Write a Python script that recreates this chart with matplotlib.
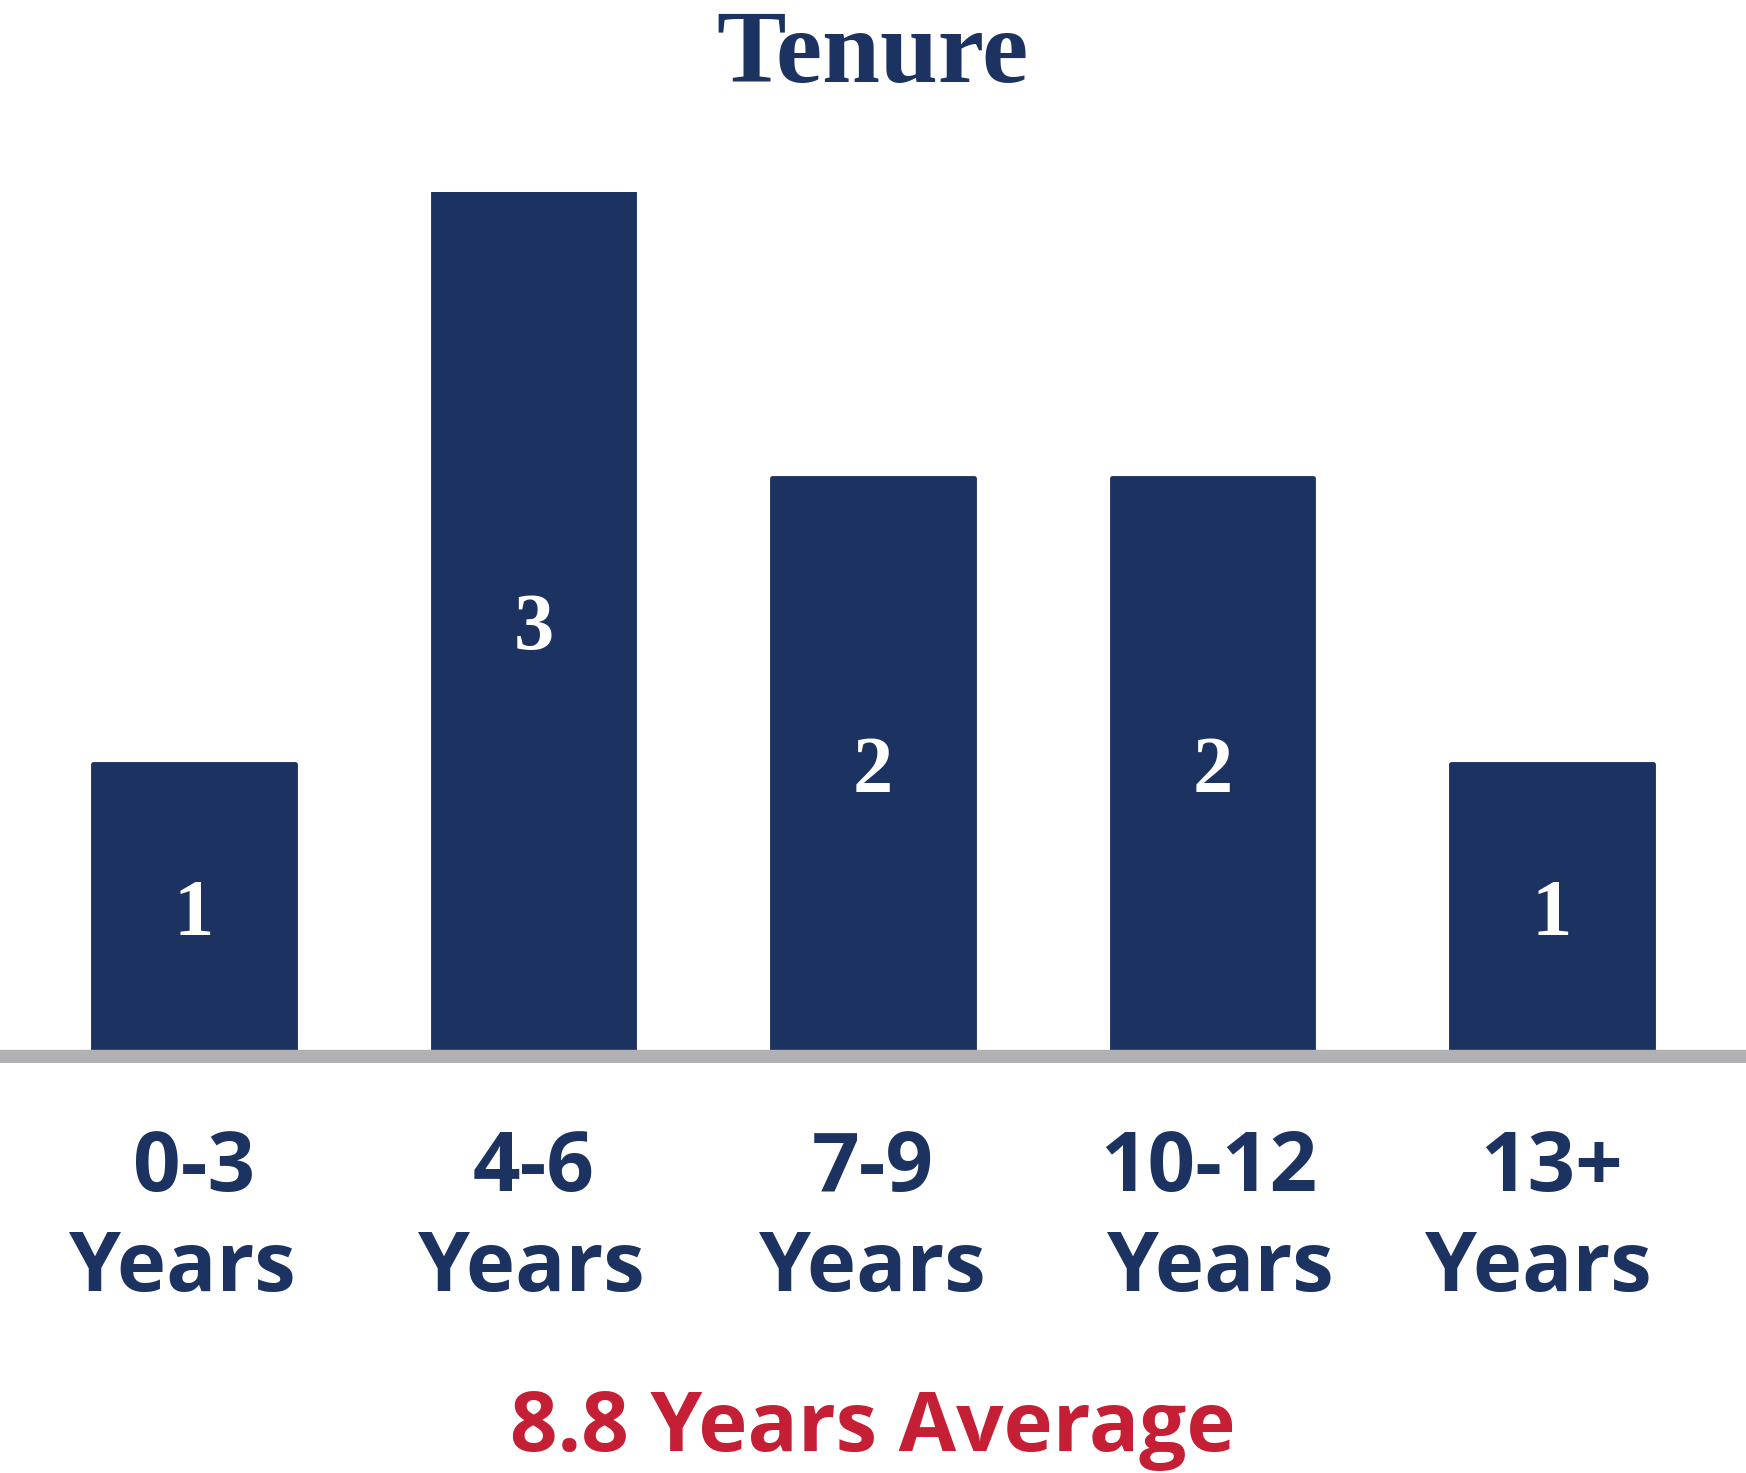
import matplotlib.pyplot as plt
from matplotlib.transforms import blended_transform_factory, offset_copy

# data
ranges = ["0-3", "4-6", "7-9", "10-12", "13+"]
counts = [1, 3, 2, 2, 1]
title = "Tenure"
average_text = "8.8 Years Average"

navy = "#1c3260"
red = "#c41f35"
gray = "#b1b1b4"
sans = "Open Sans"

# small horizontal nudges (pixels) of the labels, as in the original layout
range_nudge = [0, 0, 0, -4, 0]
years_nudge = [-12, -2, -1, 8, -14]

W, H = 1746, 1473
fig = plt.figure(figsize=(W / 100, H / 100), dpi=100)
fig.patch.set_facecolor("white")

# axes: baseline strip at 1050-1063 px, 3 units reach y=192 px
strip = 13 / 286
ax = fig.add_axes([0, (H - 1063) / H, 1, (1063 - 192) / H])
ax.set_xlim(-0.5717, 4.5717)
ax.set_ylim(-strip, 3)
ax.axis("off")

x = range(len(ranges))
bars = ax.bar(x, counts, width=0.593, bottom=0, color=navy,
              edgecolor=navy, linewidth=3.5, zorder=2)
for b in bars:
    b.set_joinstyle("round")
ax.axhspan(-strip, 0, color=gray, zorder=3)

for i, c in zip(x, counts):
    ax.text(i, c / 2, str(c), ha="center", va="center_baseline", color="white",
            fontsize=58, fontweight="bold", family="Liberation Serif", zorder=4)

tr = blended_transform_factory(ax.transData, fig.transFigure)
for i, r in zip(x, ranges):
    t1 = offset_copy(tr, fig=fig, x=range_nudge[i] * 0.72, units="points")
    t2 = offset_copy(tr, fig=fig, x=years_nudge[i] * 0.72, units="points")
    ax.text(i, (H - 1191) / H, r, transform=t1, ha="center", va="baseline",
            color=navy, fontsize=60, fontweight="bold", family=sans)
    ax.text(i, (H - 1291) / H, "Years", transform=t2, ha="center", va="baseline",
            color=navy, fontsize=60, fontweight="bold", family=sans)

fig.text(0.5, (H - 82) / H, title, ha="center", va="baseline", color=navy,
         fontsize=75, fontweight="bold", family="Liberation Serif")
fig.text(0.5, (H - 1451) / H, average_text, ha="center", va="baseline", color=red,
         fontsize=60, fontweight="bold", family=sans)

fig.savefig("out.png", dpi=100, facecolor="white")
